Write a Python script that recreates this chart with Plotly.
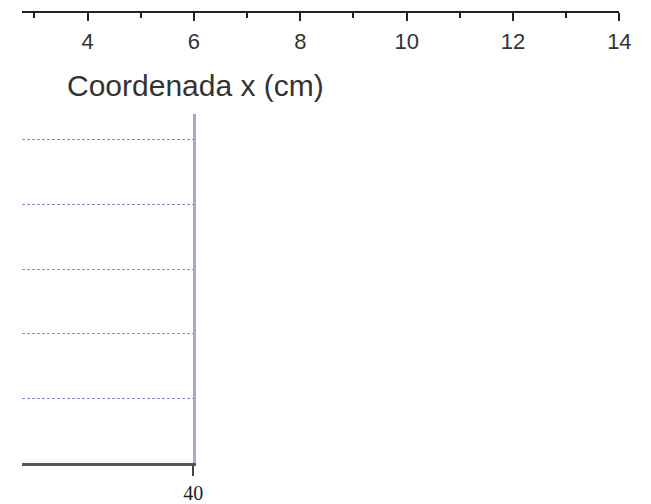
import plotly.graph_objects as go

# Top axis (x coordinate, cm)
top_tick_vals = [4, 6, 8, 10, 12, 14]
top_tick_labels = ["4", "6", "8", "10", "12", "14"]
top_range = [2.76, 14]
axis_title = "Coordenada x (cm)"

# Lower panel
grid_levels = [1, 2, 3, 4, 5]
lower_y_range = [0, 5.4]
lower_x_range = [0, 40]
lower_tick_vals = [40]
lower_tick_labels = ["40"]

W, H = 651, 504

fig = go.Figure()
fig.add_trace(go.Scatter(x=top_range, y=[0, 0], mode="lines", line=dict(width=0),
                         hoverinfo="skip", showlegend=False, xaxis="x", yaxis="y"))
fig.add_trace(go.Scatter(x=lower_x_range, y=lower_y_range, mode="lines", line=dict(width=0),
                         hoverinfo="skip", showlegend=False, xaxis="x2", yaxis="y2"))

fig.update_layout(
    width=W, height=H,
    margin=dict(l=0, r=0, t=0, b=0),
    paper_bgcolor="white", plot_bgcolor="white",
    showlegend=False,
    xaxis=dict(
        domain=[22 / W, 631 / W], range=top_range, anchor="y", side="bottom",
        showline=True, linewidth=2, linecolor="#222",
        ticks="outside", ticklen=8, tickwidth=2, tickcolor="#222",
        tickvals=top_tick_vals, ticktext=top_tick_labels,
        tickfont=dict(family="Liberation Sans, Arial", size=22, color="#333"),
        ticklabelstandoff=2,
        minor=dict(dtick=1, tick0=3, ticks="outside", ticklen=5, tickwidth=2, tickcolor="#222", showgrid=False),
        showgrid=False, zeroline=False, fixedrange=True,
    ),
    yaxis=dict(domain=[1 - 11 / H, 1], visible=False, range=[0, 1], fixedrange=True),
    xaxis2=dict(
        domain=[22 / W, 197 / W], range=lower_x_range, anchor="y2",
        showline=True, linewidth=2.5, linecolor="#555",
        ticks="outside", ticklen=10, tickwidth=1.5, tickcolor="#444",
        tickvals=lower_tick_vals, ticktext=lower_tick_labels,
        tickfont=dict(family="Liberation Serif, Times New Roman", size=20, color="#222"),
        showgrid=False, zeroline=False, fixedrange=True,
    ),
    yaxis2=dict(
        domain=[1 - 468 / H, 1 - 115 / H], range=lower_y_range, anchor="x2", side="right",
        showline=True, linewidth=3, linecolor="#a4aac6",
        tickvals=grid_levels, showticklabels=False, ticks="",
        showgrid=True, gridcolor="#8a8ad6", gridwidth=1.2, griddash="3px,2px",
        zeroline=False, fixedrange=True,
    ),
    annotations=[dict(
        text=axis_title, xref="paper", yref="paper", x=199 / W, y=1 - 86 / H,
        xanchor="center", yanchor="middle", showarrow=False,
        font=dict(family="Liberation Sans, Arial", size=30, color="#333"),
    )],
)

fig.write_html("out.html")
